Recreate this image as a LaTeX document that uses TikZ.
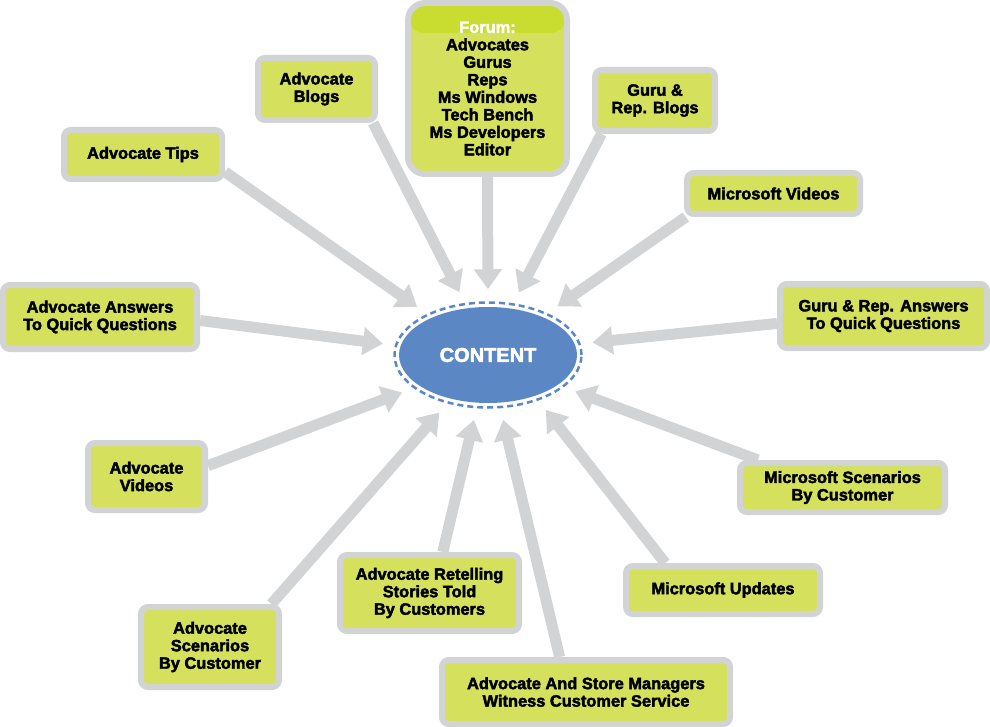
\documentclass[tikz,border=0pt]{standalone}
\usepackage{fontspec}
\setmainfont{Liberation Sans}[BoldFeatures={FakeBold=2.5}]
\usepackage{xcolor}
\usetikzlibrary{arrows.meta}
\usetikzlibrary{shapes.geometric, backgrounds}
\definecolor{boxgreen}{RGB}{213,224,92}
\definecolor{headgreen}{RGB}{201,220,48}
\definecolor{rimgrey}{RGB}{209,211,212}
\definecolor{coreblue}{RGB}{91,135,197}

\begin{document}
\begin{tikzpicture}[x=1pt,y=-1pt,
  topic/.style={draw=rimgrey, line width=6pt, fill=boxgreen, rounded corners=7pt, inner sep=0pt, align=center, font=\bfseries\fontsize{16.4}{17.5}\selectfont},
  feed/.style={draw=rimgrey, line width=11pt, -{Triangle[width=27pt,length=20pt]}, shorten >=12pt}]
\useasboundingbox (0,0) rectangle (990,727);

% centre
\node[ellipse, draw=coreblue, line width=2.5pt, dash pattern=on 6pt off 4pt, minimum width=187pt, minimum height=105pt, inner sep=0pt] (ring) at (488,355) {};
\node[ellipse, fill=coreblue, minimum width=178pt, minimum height=96pt, inner sep=0pt, text=white, font=\bfseries\fontsize{20}{24}\selectfont] (content) at (488,355) {CONTENT};

% boxes
\node[topic, rounded corners=17pt, minimum width=159pt, minimum height=171pt,
  path picture={\fill[headgreen] (path picture bounding box.north west) rectangle ([yshift=-30pt]path picture bounding box.north east);}]
  (forum) at (487.5,88.5) {{\color{white}Forum:}\\Advocates\\Gurus\\Reps\\Ms Windows\\Tech Bench\\Ms Developers\\Editor};
\node[topic, minimum width=158pt, minimum height=49pt] (tips) at (143,154.5) {Advocate Tips};
\node[topic, minimum width=117pt, minimum height=62pt] (blogs) at (316.5,89) {Advocate\\Blogs};
\node[topic, minimum width=120pt, minimum height=61pt] (gblogs) at (655,100.5) {Guru \&\\Rep. Blogs};
\node[topic, minimum width=173pt, minimum height=41pt] (msvideos) at (773.5,193.5) {Microsoft Videos};
\node[topic, minimum width=194pt, minimum height=64pt] (aanswers) at (100,317) {Advocate Answers\\To Quick Questions};
\node[topic, minimum width=207pt, minimum height=64pt] (ganswers) at (883.5,316) {Guru \& Rep. Answers\\To Quick Questions};
\node[topic, minimum width=117pt, minimum height=67pt] (avideos) at (146.5,476.5) {Advocate\\Videos};
\node[topic, minimum width=205pt, minimum height=49pt] (msscen) at (842.5,487.5) {Microsoft Scenarios\\By Customer};
\node[topic, minimum width=138pt, minimum height=80pt] (ascen) at (210,647) {Advocate\\Scenarios\\By Customer};
\node[topic, minimum width=179pt, minimum height=76pt] (retell) at (429.5,593) {Advocate Retelling\\Stories Told\\By Customers};
\node[topic, minimum width=194pt, minimum height=48pt] (updates) at (723,590) {Microsoft Updates};
\node[topic, minimum width=288pt, minimum height=64pt] (store) at (586,692) {Advocate And Store Managers\\Witness Customer Service};

% arrows into the centre
\begin{scope}[on background layer]
\draw[feed] (forum.south) -- (ring.90);
\draw[feed] (tips.-12) -- (ring.146);
\draw[feed] (blogs.-31.5) -- (ring.114);
\draw[feed] (gblogs.212) -- (ring.64.5);
\draw[feed] (msvideos.195) -- (ring.35);
\draw[feed] (aanswers.-2) -- (ring.174.6);
\draw[feed] (ganswers.184) -- (ring.7);
\draw[feed] (avideos.10) -- (ring.204);
\draw[feed] (msscen.162.5) -- (ring.337.6);
\draw[feed] (ascen.35) -- (ring.230.7);
\draw[feed] (retell.72) -- (ring.258);
\draw[feed] (store.127) -- (ring.283);
\draw[feed] (updates.155) -- (ring.318);
\end{scope}

\end{tikzpicture}
\end{document}
